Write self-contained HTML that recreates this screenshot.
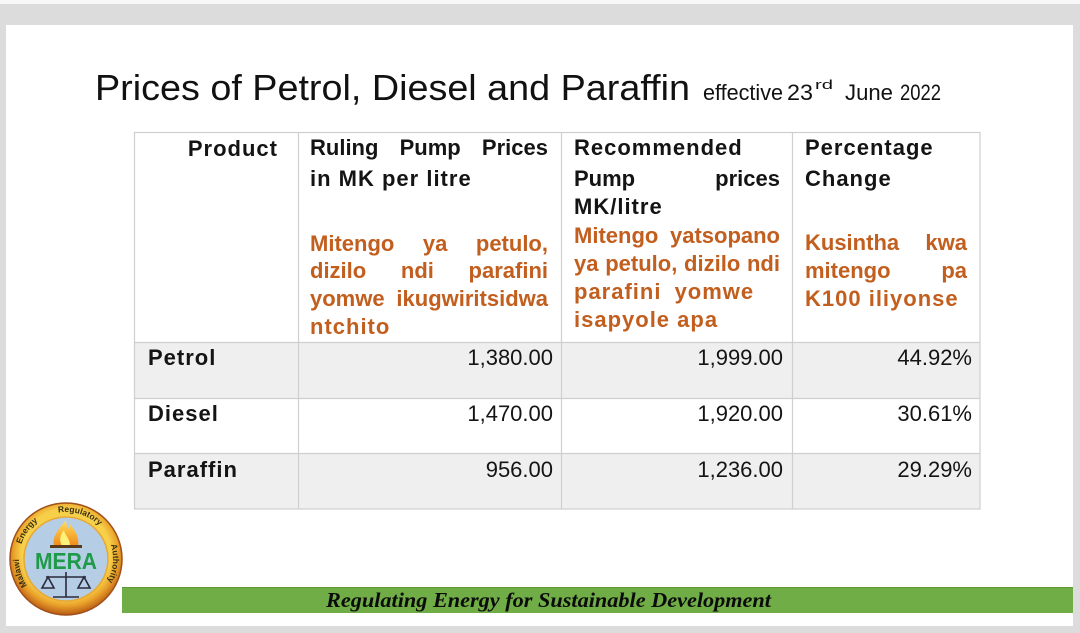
<!DOCTYPE html>
<html>
<head>
<meta charset="utf-8">
<style>
  html,body{margin:0;padding:0;}
  body{width:1080px;height:633px;overflow:hidden;background:#dcdcdc;position:relative;font-family:"Liberation Sans",sans-serif;}
  .abs{position:absolute;}
  .l{position:absolute;height:22px;line-height:22px;white-space:nowrap;font-size:22px;font-weight:bold;color:#141414;}
  .j{text-align:justify;text-align-last:justify;white-space:normal;}
  .o{color:#c25e1e;}
  .s{letter-spacing:1px;}
  .n{font-weight:normal;text-align:right;}
</style>
</head>
<body>
<div class="abs" style="left:0;top:0;width:1080px;height:4px;background:#f7f7f7;"></div>
<div class="abs" style="left:6px;top:25px;width:1067px;height:601px;background:#ffffff;"></div>

<svg class="abs" style="left:0;top:0" width="1080" height="633" viewBox="0 0 1080 633" xmlns="http://www.w3.org/2000/svg">
  <defs>
    <radialGradient id="ring" cx="50%" cy="45%" r="55%">
      <stop offset="0.72" stop-color="#f7d04a"/>
      <stop offset="0.85" stop-color="#eaa22a"/>
      <stop offset="1" stop-color="#b85a14"/>
    </radialGradient>
    <linearGradient id="flame" x1="0" y1="0" x2="0" y2="1">
      <stop offset="0" stop-color="#ffe15a"/>
      <stop offset="1" stop-color="#f08a1a"/>
    </linearGradient>
    <path id="rp" d="M 42.5 599.7 A 47 47 0 1 1 89.5 599.7"/>
  </defs>

  <!-- Title -->
  <text x="95" y="100" font-family="Liberation Sans, sans-serif" font-size="36" fill="#111" textLength="595" lengthAdjust="spacingAndGlyphs">Prices of Petrol, Diesel and Paraffin</text>
  <text x="703" y="100" font-family="Liberation Sans, sans-serif" font-size="22" fill="#111" textLength="80" lengthAdjust="spacingAndGlyphs">effective</text>
  <text x="787" y="100" font-family="Liberation Sans, sans-serif" font-size="22" fill="#111" textLength="26" lengthAdjust="spacingAndGlyphs">23</text>
  <text x="815" y="89" font-family="Liberation Sans, sans-serif" font-size="13" fill="#111" textLength="18" lengthAdjust="spacingAndGlyphs">rd</text>
  <text x="845" y="100" font-family="Liberation Sans, sans-serif" font-size="22" fill="#111" textLength="48" lengthAdjust="spacingAndGlyphs">June</text>
  <text x="900" y="100" font-family="Liberation Sans, sans-serif" font-size="22" fill="#111" textLength="41" lengthAdjust="spacingAndGlyphs">2022</text>

  <!-- Table backgrounds -->
  <rect x="134" y="342" width="846" height="56" fill="#efefef"/>
  <rect x="134" y="453" width="846" height="56" fill="#efefef"/>
  <!-- Table lines -->
  <g stroke="#cfcfcf" stroke-width="1.2" fill="none">
    <rect x="134.5" y="132.5" width="845.5" height="376.5"/>
    <line x1="298.5" y1="132" x2="298.5" y2="509"/>
    <line x1="561.5" y1="132" x2="561.5" y2="509"/>
    <line x1="792.5" y1="132" x2="792.5" y2="509"/>
    <line x1="134" y1="342.5" x2="980" y2="342.5"/>
    <line x1="134" y1="398.5" x2="980" y2="398.5"/>
    <line x1="134" y1="453.5" x2="980" y2="453.5"/>
  </g>

  <!-- Footer -->
  <rect x="122" y="587" width="951" height="26" fill="#70ad47"/>
  <line x1="122" y1="587.5" x2="1073" y2="587.5" stroke="#5e9a3a" stroke-width="1"/>
  <text x="326" y="607" font-family="Liberation Serif, serif" font-style="italic" font-weight="bold" font-size="21" fill="#0b0b0b" textLength="445" lengthAdjust="spacingAndGlyphs">Regulating Energy for Sustainable Development</text>

  <!-- Logo -->
  <circle cx="66" cy="559" r="56" fill="url(#ring)"/>
  <circle cx="66" cy="559" r="56" fill="none" stroke="#a0501a" stroke-width="1.5"/>
  <circle cx="66" cy="559" r="42" fill="#b6cde6" stroke="#e8a834" stroke-width="1.5"/>
  <g font-family="Liberation Sans, sans-serif" font-weight="bold" font-size="8.5" fill="#3a3010">
    <text><textPath href="#rp" startOffset="21">Malawi</textPath></text>
    <text><textPath href="#rp" startOffset="64">Energy</textPath></text>
    <text><textPath href="#rp" startOffset="115">Regulatory</textPath></text>
    <text><textPath href="#rp" startOffset="182">Authority</textPath></text>
  </g>
  <!-- flame -->
  <path d="M66 520 C58 530 52 536 54 546 L78 546 C80 536 74 530 70 524 C69 530 67 532 66 520 Z" fill="url(#flame)"/>
  <path d="M62 546 C58 538 62 533 64 530 C65 536 70 538 70 546 Z" fill="#fff27a"/>
  <rect x="50" y="545" width="32" height="3" fill="#5a3a18"/>
  <!-- MERA -->
  <text x="66" y="569" text-anchor="middle" font-family="Liberation Sans, sans-serif" font-weight="bold" font-size="23" fill="#1e9a48" textLength="62" lengthAdjust="spacingAndGlyphs">MERA</text>
  <!-- scales -->
  <g stroke="#2a2a3a" stroke-width="1.6" fill="none">
    <line x1="66" y1="572" x2="66" y2="597"/>
    <line x1="46" y1="577" x2="86" y2="577"/>
    <line x1="53" y1="597" x2="79" y2="597"/>
    <path d="M48 577 L42 588 L54 588 Z"/>
    <path d="M84 577 L78 588 L90 588 Z"/>
  </g>
</svg>

<!-- Header -->
<div class="l s" style="left:140px;top:138px;width:138px;text-align:right;">Product</div>
<div class="l j" style="left:310px;top:137px;width:238px;">Ruling Pump Prices</div>
<div class="l s" style="left:310px;top:168px;">in MK per litre</div>
<div class="l s" style="left:574px;top:137px;">Recommended</div>
<div class="l j" style="left:574px;top:168px;width:206px;">Pump prices</div>
<div class="l s" style="left:574px;top:196px;">MK/litre</div>
<div class="l s" style="left:805px;top:137px;">Percentage</div>
<div class="l s" style="left:805px;top:168px;">Change</div>

<!-- Orange col 2 -->
<div class="l j o" style="left:310px;top:233px;width:238px;">Mitengo ya petulo,</div>
<div class="l j o" style="left:310px;top:260px;width:238px;">dizilo ndi parafini</div>
<div class="l j o" style="left:310px;top:288px;width:238px;">yomwe ikugwiritsidwa</div>
<div class="l o s" style="left:310px;top:316px;">ntchito</div>

<!-- Orange col 3 -->
<div class="l j o" style="left:574px;top:225px;width:206px;">Mitengo yatsopano</div>
<div class="l j o" style="left:574px;top:253px;width:206px;">ya petulo, dizilo ndi</div>
<div class="l o s" style="left:574px;top:281px;word-spacing:6px;">parafini yomwe</div>
<div class="l o s" style="left:574px;top:309px;">isapyole apa</div>

<!-- Orange col 4 -->
<div class="l j o" style="left:805px;top:232px;width:162px;">Kusintha kwa</div>
<div class="l j o" style="left:805px;top:260px;width:162px;">mitengo pa</div>
<div class="l o s" style="left:805px;top:288px;">K100 iliyonse</div>

<!-- Rows -->
<div class="l s" style="left:148px;top:347px;">Petrol</div>
<div class="l n" style="left:400px;top:347px;width:153px;">1,380.00</div>
<div class="l n" style="left:630px;top:347px;width:153px;">1,999.00</div>
<div class="l n" style="left:819px;top:347px;width:153px;">44.92%</div>

<div class="l s" style="left:148px;top:403px;">Diesel</div>
<div class="l n" style="left:400px;top:403px;width:153px;">1,470.00</div>
<div class="l n" style="left:630px;top:403px;width:153px;">1,920.00</div>
<div class="l n" style="left:819px;top:403px;width:153px;">30.61%</div>

<div class="l s" style="left:148px;top:459px;">Paraffin</div>
<div class="l n" style="left:400px;top:459px;width:153px;">956.00</div>
<div class="l n" style="left:630px;top:459px;width:153px;">1,236.00</div>
<div class="l n" style="left:819px;top:459px;width:153px;">29.29%</div>

</body>
</html>
